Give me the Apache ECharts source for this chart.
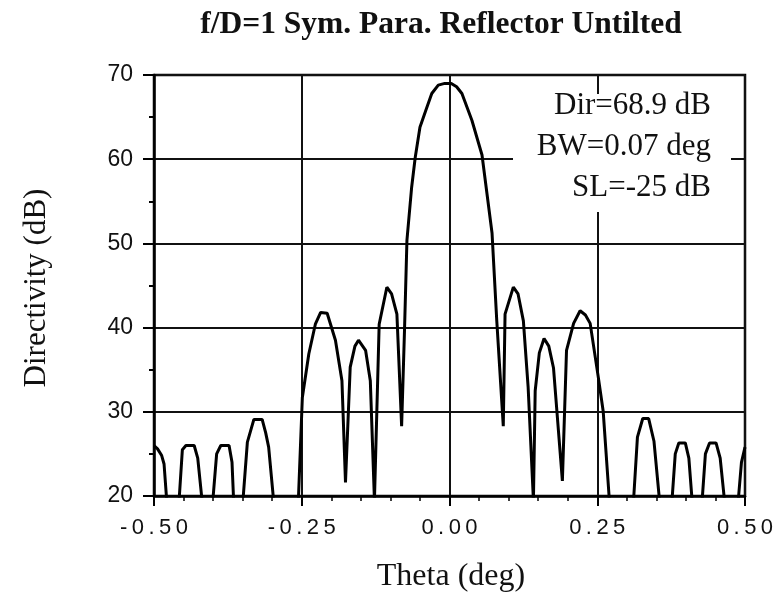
<!DOCTYPE html>
<html>
<head>
<meta charset="utf-8">
<script src="https://cdn.jsdelivr.net/npm/echarts@6/dist/echarts.min.js"></script>
<style>
  html, body { margin: 0; padding: 0; background: #fff; }
  #chart { width: 779px; height: 599px; }
</style>
</head>
<body>
<div id="chart"></div>
<script>
// theta (deg) and directivity (dB); values below 20 are off-chart nulls
const theta = [
  -0.500, -0.494, -0.487, -0.483, -0.478, -0.468, -0.458, -0.452, -0.446, -0.432,
  -0.426, -0.418, -0.410, -0.401, -0.394, -0.387, -0.373, -0.368, -0.365, -0.357,
  -0.350, -0.342, -0.331, -0.317, -0.311, -0.306, -0.297, -0.277, -0.256, -0.249,
  -0.238, -0.227, -0.218, -0.207, -0.193, -0.182, -0.176, -0.168, -0.160, -0.154,
  -0.142, -0.134, -0.127, -0.119, -0.106, -0.098, -0.089, -0.081, -0.076, -0.072,
  -0.064, -0.058, -0.050, -0.040, -0.030, -0.019, -0.008, 0.003, 0.012, 0.021,
  0.038, 0.055, 0.072, 0.080, 0.091, 0.094, 0.108, 0.116, 0.125, 0.133,
  0.142, 0.145, 0.152, 0.160, 0.168, 0.176, 0.191, 0.198, 0.210, 0.221,
  0.230, 0.238, 0.252, 0.260, 0.271, 0.291, 0.311, 0.318, 0.327, 0.337,
  0.346, 0.356, 0.366, 0.376, 0.382, 0.388, 0.399, 0.405, 0.411, 0.419,
  0.427, 0.433, 0.440, 0.451, 0.458, 0.466, 0.477, 0.488, 0.494, 0.500
];
const directivity = [
  26.0, 25.6, 24.8, 23.8, 19.0, 10.0, 19.0, 25.5, 26.0, 26.0,
  24.5, 19.0, 10.0, 19.0, 25.0, 26.0, 26.0, 24.0, 19.0, 10.0,
  19.0, 26.4, 29.1, 29.1, 27.5, 25.8, 19.0, 10.0, 19.0, 31.7,
  36.9, 40.4, 41.8, 41.7, 38.5, 33.7, 21.6, 35.3, 37.8, 38.5,
  37.3, 33.7, 19.5, 40.4, 44.8, 44.0, 41.6, 28.3, 40.0, 50.4,
  56.7, 60.2, 63.8, 65.8, 67.8, 68.8, 69.0, 69.0, 68.6, 67.8,
  64.6, 60.5, 51.2, 40.8, 28.3, 41.6, 44.8, 44.0, 40.8, 33.0,
  19.5, 32.5, 37.0, 38.7, 37.8, 35.2, 21.8, 37.3, 40.5, 42.0,
  41.5, 40.5, 34.0, 30.1, 19.0, 10.0, 19.0, 27.0, 29.2, 29.2,
  26.5, 19.0, 10.0, 19.0, 25.0, 26.3, 26.3, 24.5, 19.0, 10.0,
  19.0, 25.0, 26.3, 26.3, 24.5, 19.0, 10.0, 19.0, 24.0, 25.8
];

const xTicks = [-0.5, -0.25, 0, 0.25, 0.5];
const yTicks = [20, 30, 40, 50, 60, 70];
const annotation = ['Dir=68.9 dB', 'BW=0.07 deg', 'SL=-25 dB'];

const serif = '"Liberation Serif", "DejaVu Serif", serif';
const sans = '"Liberation Sans", Arial, sans-serif';

const chart = echarts.init(document.getElementById('chart'));

const option = {
  backgroundColor: '#fff',
  animation: false,
  grid: {
    left: 154,
    right: 34,
    top: 75,
    bottom: 103,
    show: true,
    borderColor: '#000',
    borderWidth: 2.5,
    backgroundColor: 'transparent'
  },
  xAxis: {
    type: 'value',
    min: xTicks[0],
    max: xTicks[xTicks.length - 1],
    interval: 0.25,
    axisLine: { show: true, onZero: false, lineStyle: { color: '#000', width: 2.5 } },
    axisTick: { show: true, inside: false, length: 10, lineStyle: { color: '#000', width: 2 } },
    minorTick: { show: true, splitNumber: 5, length: 5, lineStyle: { color: '#000', width: 1.5 } },
    splitLine: { show: true, lineStyle: { color: '#111', width: 2 } },
    axisLabel: {
      color: '#111',
      fontFamily: sans,
      fontSize: 22,
      margin: 21,
      // wide letter spacing as in the original print (thin spaces)
      formatter: v => v.toFixed(2).split('').join('\u2009')
    }
  },
  yAxis: {
    type: 'value',
    min: yTicks[0],
    max: yTicks[yTicks.length - 1],
    interval: 10,
    axisLine: { show: true, onZero: false, lineStyle: { color: '#000', width: 2.5 } },
    axisTick: { show: true, inside: false, length: 11, lineStyle: { color: '#000', width: 2 } },
    minorTick: { show: true, splitNumber: 2, length: 5, lineStyle: { color: '#000', width: 2 } },
    splitLine: { show: true, lineStyle: { color: '#111', width: 2 } },
    axisLabel: {
      color: '#111',
      fontFamily: sans,
      fontSize: 23,
      margin: 21
    }
  },
  series: [{
    type: 'line',
    data: theta.map((t, i) => [t, directivity[i]]),
    showSymbol: false,
    clip: true,
    lineStyle: { color: '#000', width: 3 },
    z: 3
  }],
  graphic: [
    {
      type: 'text',
      x: 441,
      y: 25,
      style: {
        text: 'f/D=1 Sym. Para. Reflector Untilted',
        font: 'bold 31.5px ' + serif,
        fill: '#111',
        textAlign: 'center',
        textVerticalAlign: 'middle',
        align: 'center',
        verticalAlign: 'middle'
      }
    },
    {
      type: 'text',
      x: 451,
      y: 577,
      style: {
        text: 'Theta (deg)',
        font: '32px ' + serif,
        fill: '#111',
        textAlign: 'center',
        textVerticalAlign: 'middle',
        align: 'center',
        verticalAlign: 'middle'
      }
    },
    {
      type: 'text',
      x: 37,
      y: 288,
      rotation: Math.PI / 2,
      style: {
        text: 'Directivity (dB)',
        font: '31px ' + serif,
        fill: '#111',
        textAlign: 'center',
        textVerticalAlign: 'middle',
        align: 'center',
        verticalAlign: 'middle'
      }
    },
    {
      // white box behind the annotation hides the grid lines
      type: 'rect',
      z: 10,
      shape: { x: 513, y: 94, width: 218, height: 118 },
      style: { fill: '#fff' }
    },
    {
      type: 'text',
      z: 11,
      x: 711,
      y: 85,
      style: {
        text: annotation.join('\n'),
        font: '31px ' + serif,
        lineHeight: 41,
        fill: '#111',
        textAlign: 'right',
        textVerticalAlign: 'top',
        align: 'right',
        verticalAlign: 'top'
      }
    }
  ]
};

chart.setOption(option);
</script>
</body>
</html>
